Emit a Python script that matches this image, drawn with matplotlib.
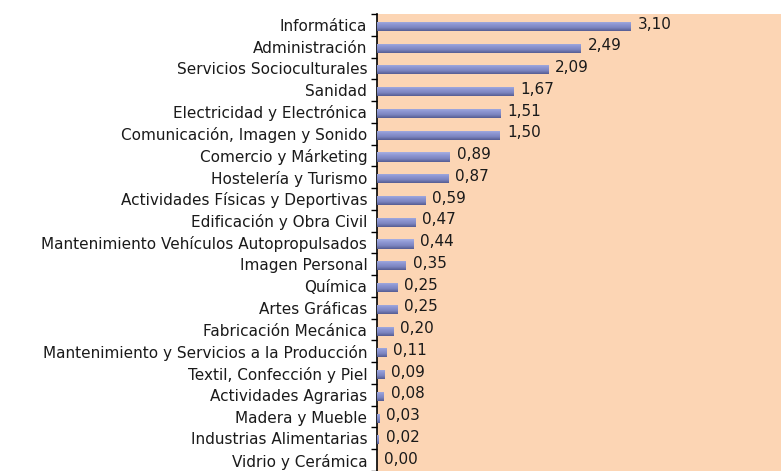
import matplotlib
matplotlib.use("Agg")
import matplotlib.pyplot as plt
import numpy as np
from matplotlib.colors import LinearSegmentedColormap

categories = [
    "Informática", "Administración", "Servicios Socioculturales", "Sanidad",
    "Electricidad y Electrónica", "Comunicación, Imagen y Sonido",
    "Comercio y Márketing", "Hostelería y Turismo",
    "Actividades Físicas y Deportivas", "Edificación y Obra Civil",
    "Mantenimiento Vehículos Autopropulsados", "Imagen Personal", "Química",
    "Artes Gráficas", "Fabricación Mecánica",
    "Mantenimiento y Servicios a la Producción", "Textil, Confección y Piel",
    "Actividades Agrarias", "Madera y Mueble", "Industrias Alimentarias",
    "Vidrio y Cerámica",
]
values = [3.10, 2.49, 2.09, 1.67, 1.51, 1.50, 0.89, 0.87, 0.59, 0.47, 0.44,
          0.35, 0.25, 0.25, 0.20, 0.11, 0.09, 0.08, 0.03, 0.02, 0.00]
value_labels = [f"{v:.2f}".replace(".", ",") for v in values]

plt.rcParams['font.family'] = ['DejaVu Sans']

W, H = 781, 471
fig = plt.figure(figsize=(W / 100, H / 100), dpi=100)
left, top, bottom = 377, 14, 471
ax = fig.add_axes([left / W, 1 - bottom / H, 1 - left / W, (bottom - top) / H])
bg = "#FCD5B4"
ax.set_facecolor(bg)

n = len(categories)
ypos = np.arange(n) + 0.07
bar_h = 0.42
bars = ax.barh(ypos, values, height=bar_h, color="#8a93cf", edgecolor="none", zorder=2)

cmap = LinearSegmentedColormap.from_list("g", ["#a7afe3", "#8d96d2", "#7c84c0", "#555c92"])
grad = np.linspace(0, 1, 64).reshape(-1, 1)
for b, v, y in zip(bars, values, ypos):
    if v <= 0:
        continue
    im = ax.imshow(grad, cmap=cmap, aspect="auto",
                   extent=[0, v, y + bar_h / 2, y - bar_h / 2],
                   origin="upper", zorder=3, interpolation="bilinear")
    im.set_clip_path(b)

scale = 81.9  # px per unit
xmax = (W - left) / scale
ax.set_xlim(0, xmax)
ax.set_ylim(n - 0.5, -0.5)

for v, lab, y in zip(values, value_labels, np.arange(n)):
    ax.text(v + 7 / scale, y - 0.04, lab, fontsize=11, va="center", ha="left",
            color="#1a1a1a", zorder=4)

ax.set_xticks([])
ax.set_yticks(np.arange(n + 1) - 0.5)
ax.set_yticklabels([])
ax.tick_params(axis="y", which="major", direction="out", length=4, width=1, color="black")
ax.set_yticks(np.arange(n), minor=True)
ax.set_yticklabels(categories, minor=True, fontsize=11, color="#1a1a1a")
ax.tick_params(axis="y", which="minor", length=0, pad=7)

for s in ["top", "right", "bottom"]:
    ax.spines[s].set_visible(False)
ax.spines["left"].set_linewidth(1.2)
ax.spines["left"].set_color("black")

fig.savefig("out.png", dpi=100)
